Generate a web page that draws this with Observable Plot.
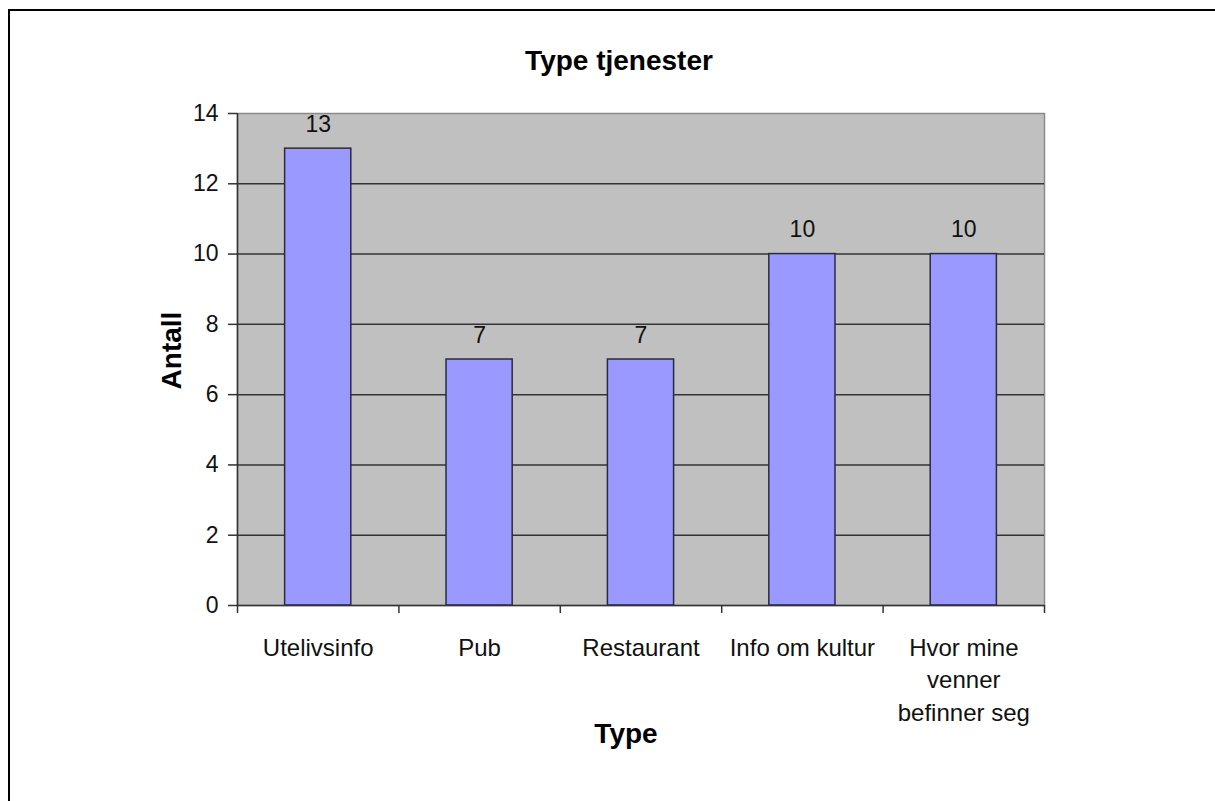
<!DOCTYPE html>
<html><head><meta charset="utf-8">
<script src="https://cdn.jsdelivr.net/npm/d3@7"></script>
<script src="https://cdn.jsdelivr.net/npm/@observablehq/plot@0.6"></script>
<style>
body{margin:0;background:#fff;}
#wrap{position:relative;width:1215px;height:801px;overflow:hidden;}
#chart{position:absolute;left:0;top:0;}
#border{position:absolute;left:8px;top:9px;width:1300px;height:900px;border-left:2px solid #000;border-top:2px solid #000;pointer-events:none;}
</style></head><body>
<div id="wrap"><div id="chart"></div><div id="border"></div></div>
<script>
const categories = ["Utelivsinfo", "Pub", "Restaurant", "Info om kultur", "Hvor mine\nvenner\nbefinner seg"];
const values = [13, 7, 7, 10, 10];
const yTicks = [0, 2, 4, 6, 8, 10, 12, 14];
const gridValues = [2, 4, 6, 8, 10, 12];
const title = "Type tjenester";
const xLabel = "Type";
const yLabel = "Antall";

const data = categories.map((c, i) => ({category: c, value: values[i], i}));
const boundaries = d3.range(categories.length + 1);
const gap = 0.295;
const font = "Liberation Sans, Arial, sans-serif";

const plot = Plot.plot({
  width: 1215,
  height: 801,
  marginLeft: 237,
  marginRight: 171,
  marginTop: 113,
  marginBottom: 196,
  style: {fontFamily: font, background: "transparent", color: "#111"},
  x: {domain: [0, categories.length], axis: null},
  y: {domain: [0, 14], axis: null},
  marks: [
    Plot.frame({fill: "#C0C0C0", stroke: "#8a8a8a", strokeWidth: 1.5}),
    Plot.ruleY(gridValues, {stroke: "#333", strokeWidth: 1.5}),
    Plot.rectY(data, {x1: d => d.i + gap, x2: d => d.i + 1 - gap, y1: 0, y2: "value", fill: "#9999FF", stroke: "#2a2a40", strokeWidth: 1.5}),
    Plot.ruleX([0], {stroke: "#333", strokeWidth: 1.5}),
    Plot.ruleY([0], {stroke: "#333", strokeWidth: 1.5}),
    Plot.axisY({ticks: yTicks, tickSize: 9, tickPadding: 10, fontSize: 23, stroke: "#333", strokeWidth: 1.5, label: null}),
    Plot.axisX({ticks: boundaries, tickSize: 8, tickFormat: () => "", stroke: "#333", strokeWidth: 1.5, label: null}),
    Plot.text(data, {x: d => d.i + 0.5, y: "value", text: d => String(d.value), dy: -24, fontSize: 23, fill: "#111"}),
    Plot.text(data, {x: d => d.i + 0.5, y: 0, text: "category", lineAnchor: "top", dy: 27, fontSize: 24, lineHeight: 1.36, fill: "#111"}),
    Plot.text([title], {frameAnchor: "top", dy: -63, dx: -22, fontSize: 28, fontWeight: "bold", fill: "#000"}),
    Plot.text([xLabel], {frameAnchor: "bottom", dy: 137, dx: -15, fontSize: 28, fontWeight: "bold", fill: "#000"}),
    Plot.text([yLabel], {frameAnchor: "left", textAnchor: "middle", dx: -65, dy: -9, rotate: -90, fontSize: 28, fontWeight: "bold", fill: "#000"})
  ]
});
document.getElementById("chart").appendChild(plot);
</script>
</body></html>
